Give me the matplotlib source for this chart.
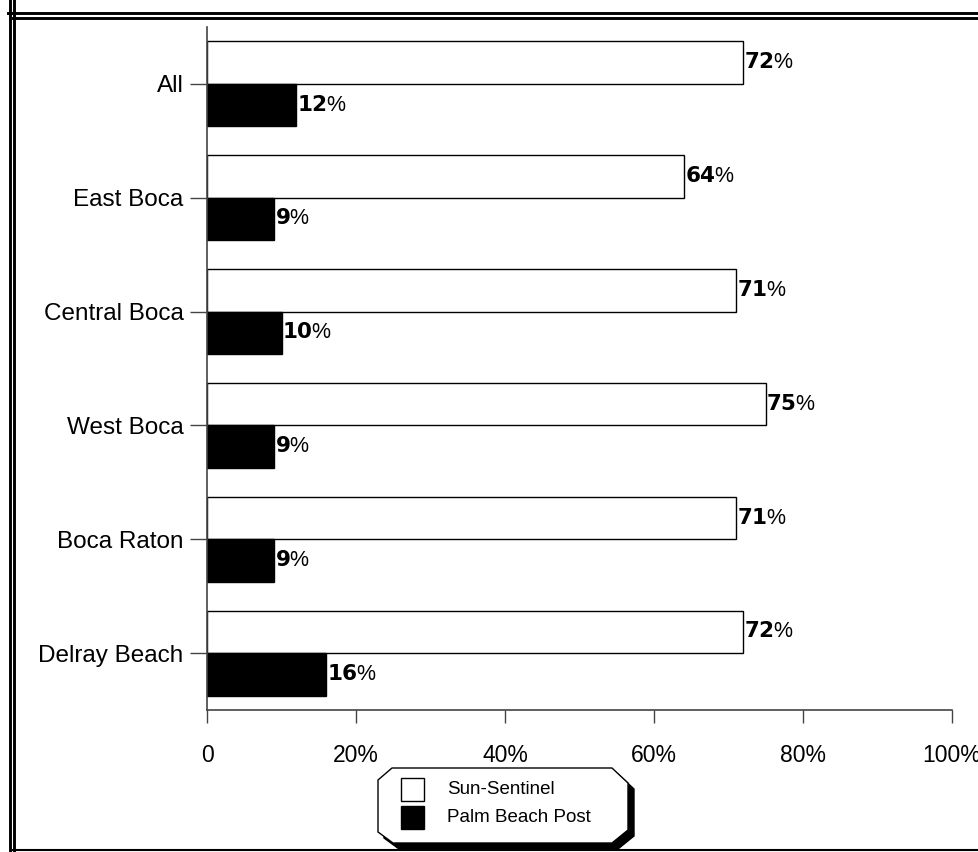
import matplotlib
matplotlib.use("Agg")
import matplotlib.pyplot as plt
from matplotlib.lines import Line2D
from matplotlib.patches import Polygon, Rectangle
import numpy as np

plt.rcParams["font.family"] = ["Liberation Sans", "DejaVu Sans"]

# data
categories = ["All", "East Boca", "Central Boca", "West Boca", "Boca Raton", "Delray Beach"]
sun_sentinel = [72, 64, 71, 75, 71, 72]
palm_beach_post = [12, 9, 10, 9, 9, 16]
series_names = ["Sun-Sentinel", "Palm Beach Post"]
x_ticks = [0, 20, 40, 60, 80, 100]
x_tick_labels = ["0", "20%", "40%", "60%", "80%", "100%"]

W, H = 979, 852
fig = plt.figure(figsize=(W / 100, H / 100), dpi=100)


def fx(px):
    return px / W


def fy(py):
    return 1 - py / H


ax = fig.add_axes([fx(207), fy(710), fx(952) - fx(207), fy(27) - fy(710)])

y = np.arange(len(categories))
bar_h = 0.373
ax.barh(y - bar_h / 2, sun_sentinel, height=bar_h, color="white",
        edgecolor="black", linewidth=1.0)
ax.barh(y + bar_h / 2, palm_beach_post, height=bar_h, color="black",
        edgecolor="black", linewidth=1.0)

for i, (a, b) in enumerate(zip(sun_sentinel, palm_beach_post)):
    ax.text(a + 0.1, i - bar_h / 2, r"$\mathbf{%d}$%%" % a, va="center", ha="left",
            fontsize=15.5)
    ax.text(b + 0.1, i + bar_h / 2, r"$\mathbf{%d}$%%" % b, va="center", ha="left",
            fontsize=15.5)

ax.set_xlim(0, 100)
ax.set_ylim(len(categories) - 0.5, -0.5)
ax.set_yticks(y)
ax.set_yticklabels(categories, fontsize=17.5)
ax.set_xticks(x_ticks)
ax.set_xticklabels(x_tick_labels, fontsize=16.5)
ax.tick_params(axis="y", length=12, width=1, color="#444444", pad=5)
ax.tick_params(axis="x", length=9.5, width=1, color="#444444", pad=15)
for side in ["top", "right"]:
    ax.spines[side].set_visible(False)
for side in ["left", "bottom"]:
    ax.spines[side].set_color("#444444")
    ax.spines[side].set_linewidth(1.2)

# page frame (double line on left/top)
tr = fig.transFigure
for xl in (9.5, 14.5):
    fig.add_artist(Line2D([fx(xl), fx(xl)], [fy(0), fy(852)], color="black", lw=2.1, transform=tr))
for yl in (12.5, 17.5):
    x0 = 8 if yl == 12.5 else 13
    fig.add_artist(Line2D([fx(x0), fx(979)], [fy(yl), fy(yl)], color="black", lw=2.1, transform=tr))
fig.add_artist(Line2D([fx(13), fx(979)], [fy(850), fy(850)], color="black", lw=1.5, transform=tr))

# legend box with bevelled corners and drop shadow
box = [(392, 768), (612, 768), (628, 783), (628, 830), (612, 843),
       (393, 843), (378, 832), (378, 780)]
shadow = [(x + 6, y_ + 6) for x, y_ in box]
fig.add_artist(Polygon([(fx(x), fy(y_)) for x, y_ in shadow], closed=True,
                       facecolor="black", edgecolor="black", transform=tr))
fig.add_artist(Polygon([(fx(x), fy(y_)) for x, y_ in box], closed=True,
                       facecolor="white", edgecolor="black", lw=1.0, transform=tr))
colors = ["white", "black"]
for k, (name, c) in enumerate(zip(series_names, colors)):
    top = 778 + k * 28
    fig.add_artist(Rectangle((fx(401), fy(top + 23)), fx(424) - fx(401), fy(top) - fy(top + 23),
                             facecolor=c, edgecolor="black", lw=1.0, transform=tr))
    fig.text(fx(447), fy(top + 11.5), name, fontsize=13.5, va="center", ha="left")

fig.savefig("out.png", dpi=100)
